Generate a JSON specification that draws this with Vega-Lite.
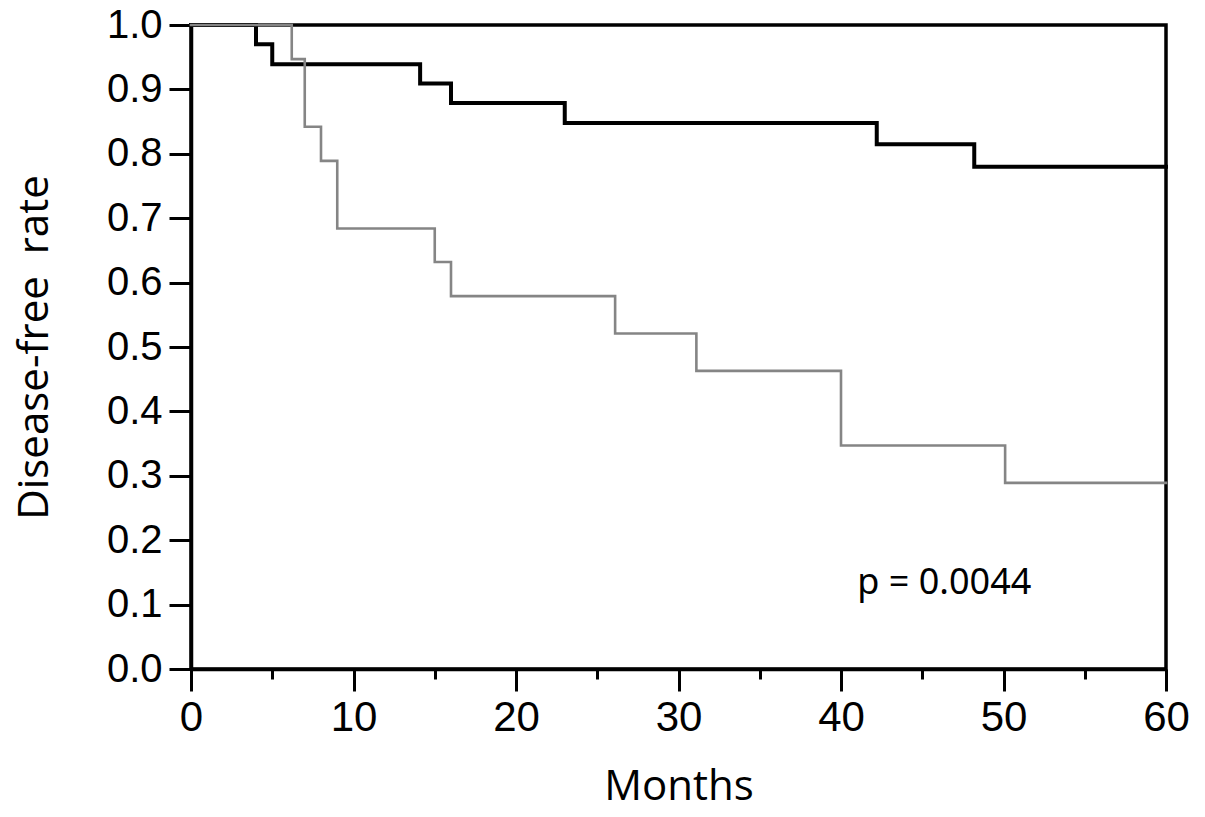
{
  "$schema": "https://vega.github.io/schema/vega-lite/v6.json",
  "width": 975,
  "height": 644,
  "autosize": "none",
  "padding": {"left": 191, "top": 25, "right": 39, "bottom": 148},
  "background": "white",
  "config": {
    "view": {"stroke": "black", "strokeWidth": 3.5},
    "text": {"font": "Noto Sans"},
    "axis": {
      "grid": false,
      "domainColor": "black",
      "domainWidth": 3.5,
      "tickColor": "black",
      "tickWidth": 3,
      "labelColor": "black",
      "titleColor": "black",
      "labelFont": "Liberation Sans",
      "titleFont": "Open Sans",
      "titleFontWeight": "normal"
    }
  },
  "resolve": {"axis": {"x": "independent"}},
  "layer": [
    {
      "data": {
        "values": [
          {"group": "A", "month": 0, "rate": 1.0},
          {"group": "A", "month": 4, "rate": 0.97},
          {"group": "A", "month": 5, "rate": 0.939},
          {"group": "A", "month": 14.1, "rate": 0.909},
          {"group": "A", "month": 16, "rate": 0.879},
          {"group": "A", "month": 23, "rate": 0.848},
          {"group": "A", "month": 42.2, "rate": 0.815},
          {"group": "A", "month": 48.2, "rate": 0.78},
          {"group": "A", "month": 60, "rate": 0.78},
          {"group": "B", "month": 0, "rate": 1.0},
          {"group": "B", "month": 6.2, "rate": 0.947},
          {"group": "B", "month": 7, "rate": 0.842},
          {"group": "B", "month": 8, "rate": 0.789},
          {"group": "B", "month": 9, "rate": 0.684},
          {"group": "B", "month": 15, "rate": 0.632},
          {"group": "B", "month": 16, "rate": 0.579},
          {"group": "B", "month": 26.1, "rate": 0.521},
          {"group": "B", "month": 31.1, "rate": 0.463},
          {"group": "B", "month": 40, "rate": 0.347},
          {"group": "B", "month": 50.1, "rate": 0.289},
          {"group": "B", "month": 60, "rate": 0.289}
        ]
      },
      "mark": {"type": "line", "interpolate": "step-after", "strokeCap": "square"},
      "encoding": {
        "x": {
          "field": "month", "type": "quantitative",
          "scale": {"domain": [0, 60], "nice": false, "zero": false},
          "axis": {
            "values": [0, 10, 20, 30, 40, 50, 60],
            "tickSize": 22,
            "labelFontSize": 42,
            "labelPadding": 6,
            "labelFlush": false,
            "title": "Months",
            "titleFontSize": 42,
            "titlePadding": 28,
            "orient": "bottom"
          }
        },
        "y": {
          "field": "rate", "type": "quantitative",
          "scale": {"domain": [0, 1], "nice": false},
          "axis": {
            "values": [0, 0.1, 0.2, 0.3, 0.4, 0.5, 0.6, 0.7, 0.8, 0.9, 1.0],
            "format": ".1f",
            "tickSize": 22,
            "labelFontSize": 40,
            "labelPadding": 7,
            "labelFlush": false,
            "title": "Disease-free\u00a0 rate",
            "titleFontSize": 42,
            "titlePadding": 50
          }
        },
        "color": {
          "field": "group", "type": "nominal",
          "scale": {"domain": ["A", "B"], "range": ["#000000", "#858585"]},
          "legend": null
        },
        "strokeWidth": {
          "field": "group", "type": "nominal",
          "scale": {"domain": ["A", "B"], "range": [4, 2.6]},
          "legend": null
        }
      }
    },
    {
      "data": {"values": [{"px": 41.0, "py": 0.117, "label": "p = 0.0044"}]},
      "mark": {"type": "text", "font": "Noto Sans", "fontWeight": "normal", "fontSize": 36, "align": "left", "baseline": "alphabetic", "color": "black"},
      "encoding": {
        "x": {
          "field": "px", "type": "quantitative",
          "axis": {
            "orient": "bottom",
            "values": [5, 15, 25, 35, 45, 55],
            "tickSize": 10,
            "labels": false,
            "domain": false,
            "title": null
          }
        },
        "y": {"field": "py", "type": "quantitative"},
        "text": {"field": "label"}
      }
    }
  ]
}
